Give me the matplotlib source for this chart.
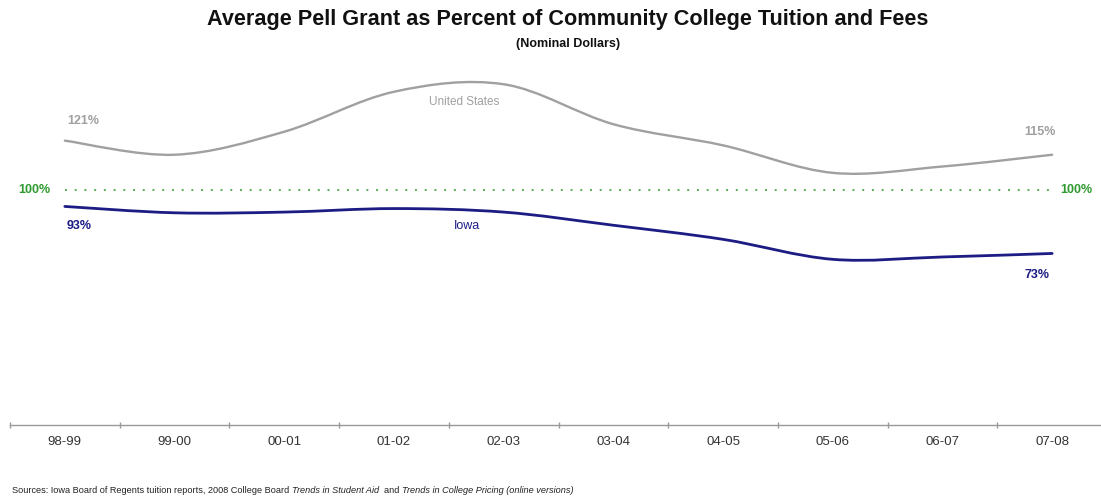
import matplotlib
matplotlib.use("Agg")
import matplotlib.pyplot as plt
import numpy as np
from matplotlib.path import Path
from matplotlib.patches import PathPatch
from matplotlib.text import Annotation

years = ["98-99", "99-00", "00-01", "01-02", "02-03", "03-04", "04-05", "05-06", "06-07", "07-08"]
us_values = [121, 115, 124.8, 141.8, 145, 128, 119, 107.3, 110, 115]
iowa_values = [93, 90.3, 90.6, 92.1, 90.6, 85, 79, 70.5, 71.5, 73]
reference_level = 100

plt.rcParams['font.family'] = ['Liberation Sans', 'DejaVu Sans']

US_C = "#a0a0a0"
IA_C = "#1c1c84"
GR_C = "#2f9a2f"

fig = plt.figure(figsize=(11.01, 4.97), dpi=100)
W, H = 1101, 497
ax = fig.add_axes([10 / W, 72 / H, 1097 / W, (425 - 49) / H])
ax.set_xlim(-0.5, len(years) - 0.5)
ax.set_ylim(0, 160)


def smooth_path(xs, ys):
    pts = np.column_stack([xs, ys]).astype(float)
    n = len(pts)
    verts = [pts[0]]
    codes = [Path.MOVETO]
    for i in range(n - 1):
        p0 = pts[i - 1] if i > 0 else pts[i]
        p1 = pts[i]
        p2 = pts[i + 1]
        p3 = pts[i + 2] if i + 2 < n else pts[i + 1]
        c1 = p1 + (p2 - p0) / 6.0
        c2 = p2 - (p3 - p1) / 6.0
        verts += [c1, c2, p2]
        codes += [Path.CURVE4] * 3
    return Path(verts, codes)


x = np.arange(len(years))
ax.add_patch(PathPatch(smooth_path(x, us_values), fill=False, edgecolor=US_C, lw=1.7, capstyle='round'))
ax.add_patch(PathPatch(smooth_path(x, iowa_values), fill=False, edgecolor=IA_C, lw=2.0, capstyle='round'))
ax.plot([x[0], x[-1]], [reference_level, reference_level], color="#5aae5a", lw=1.4,
        linestyle=(0, (1, 4)))

for s in ["top", "right", "left"]:
    ax.spines[s].set_visible(False)
ax.spines["bottom"].set_color("#9a9a9a")
ax.spines["bottom"].set_linewidth(1.0)
ax.set_yticks([])
ax.set_xticks(np.arange(-0.5, len(years) - 0.5 + 0.01, 1.0))
ax.set_xticklabels([])
ax.tick_params(axis='x', direction='inout', length=5, color="#9a9a9a", width=1)
for i, lab in enumerate(years):
    ax.text(i, -7.3, lab, ha='center', va='center', fontsize=9.5, color="#333333")

# data labels
ax.text(x[0] + 0.17, us_values[0] + 8.5, f"{us_values[0]}%", ha='center', va='center',
        fontsize=9, fontweight='bold', color=US_C)
ax.text(x[-1] - 0.11, us_values[-1] + 9.5, f"{us_values[-1]}%", ha='center', va='center',
        fontsize=9, fontweight='bold', color=US_C)
ax.text(x[0] + 0.13, iowa_values[0] - 8.2, f"{iowa_values[0]}%", ha='center', va='center',
        fontsize=9, fontweight='bold', color=IA_C)
ax.text(x[-1] - 0.14, iowa_values[-1] - 9.0, f"{iowa_values[-1]}%", ha='center', va='center',
        fontsize=9, fontweight='bold', color=IA_C)
ax.text(3.64, 137.5, "United States", ha='center', va='center', fontsize=8.5, color=US_C)
ax.text(3.67, 84.5, "Iowa", ha='center', va='center', fontsize=9, color=IA_C)
ax.text(-0.28, reference_level, f"{reference_level}%", ha='center', va='center',
        fontsize=9, fontweight='bold', color=GR_C)
ax.text(9.22, reference_level, f"{reference_level}%", ha='center', va='center',
        fontsize=9, fontweight='bold', color=GR_C)

fig.text(568 / W, 1 - 20 / H, "Average Pell Grant as Percent of Community College Tuition and Fees",
         ha='center', va='center', fontsize=15.6, fontweight='bold', color="#111111")
fig.text(568 / W, 1 - 44 / H, "(Nominal Dollars)", ha='center', va='center', fontsize=9,
         fontweight='bold', color="#111111")

parts = [("Sources: Iowa Board of Regents tuition reports, 2008 College Board ", 'normal'),
         ("Trends in Student Aid", 'italic'),
         ("  and ", 'normal'),
         ("Trends in College Pricing (online versions)", 'italic')]
prev = fig.text(12 / W, 1 - 493 / H, parts[0][0], ha='left', va='baseline', fontsize=6.6,
                color="#222222")
for txt, style in parts[1:]:
    prev = fig.add_artist(Annotation(
        txt, xy=(1, 0), xycoords=prev, xytext=(0, 0), textcoords='offset points',
        ha='left', va='bottom', fontsize=6.6, color="#222222", style=style))

fig.savefig("out.png", dpi=100)
